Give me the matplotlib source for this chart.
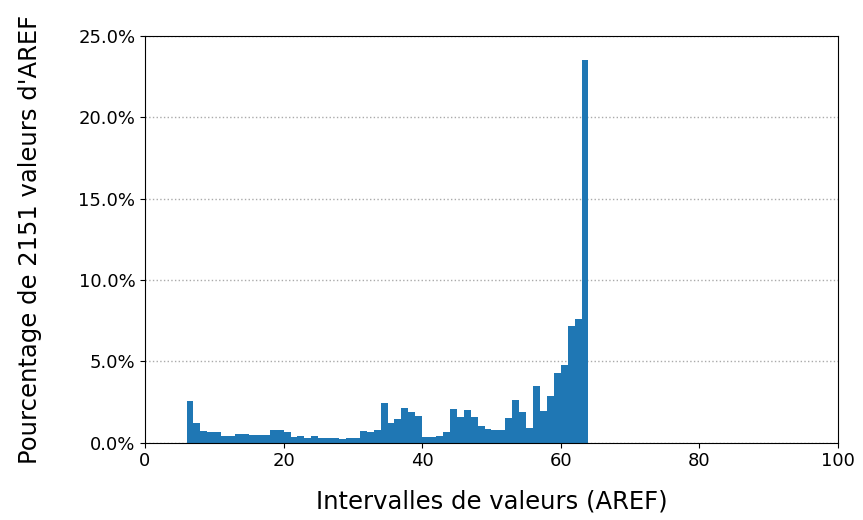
import matplotlib
matplotlib.use('Agg')
import matplotlib.pyplot as plt
from matplotlib.ticker import PercentFormatter

# bornes gauches des intervalles (largeur 1) et pourcentages
bin_left = list(range(6, 64))
pourcentages = [
    2.55, 1.19, 0.70, 0.64, 0.64, 0.41, 0.41, 0.55, 0.55, 0.47,
    0.47, 0.47, 0.76, 0.76, 0.64, 0.35, 0.41, 0.27, 0.41, 0.27,
    0.27, 0.27, 0.21, 0.27, 0.27, 0.68, 0.64, 0.76, 2.40, 1.19,
    1.44, 2.11, 1.87, 1.66, 0.33, 0.33, 0.41, 0.66, 2.05, 1.58,
    1.99, 1.58, 1.03, 0.82, 0.76, 0.76, 1.50, 2.61, 1.87, 0.88,
    3.50, 1.91, 2.89, 4.26, 4.75, 7.17, 7.58, 23.52,
]
n_valeurs = 2151

fig = plt.figure(figsize=(8.63, 5.2), dpi=100)
ax = fig.add_axes([0.168, 0.149, 0.803, 0.782])

ax.bar(bin_left, pourcentages, width=1.0, align='edge', color='#1f77b4',
       linewidth=0, zorder=2)

ax.set_xlim(0, 100)
ax.set_ylim(0, 25)
ax.yaxis.set_major_formatter(PercentFormatter(decimals=1))
ax.grid(axis='y', linestyle=':', color='#aaaaaa', linewidth=1, zorder=0)
ax.tick_params(labelsize=13)

ax.set_xlabel('Intervalles de valeurs (AREF)', fontsize=17.5, labelpad=14)
ax.set_ylabel(f"Pourcentage de {n_valeurs} valeurs d'AREF", fontsize=17.5,
              labelpad=26)

fig.savefig('out.png', dpi=100)
